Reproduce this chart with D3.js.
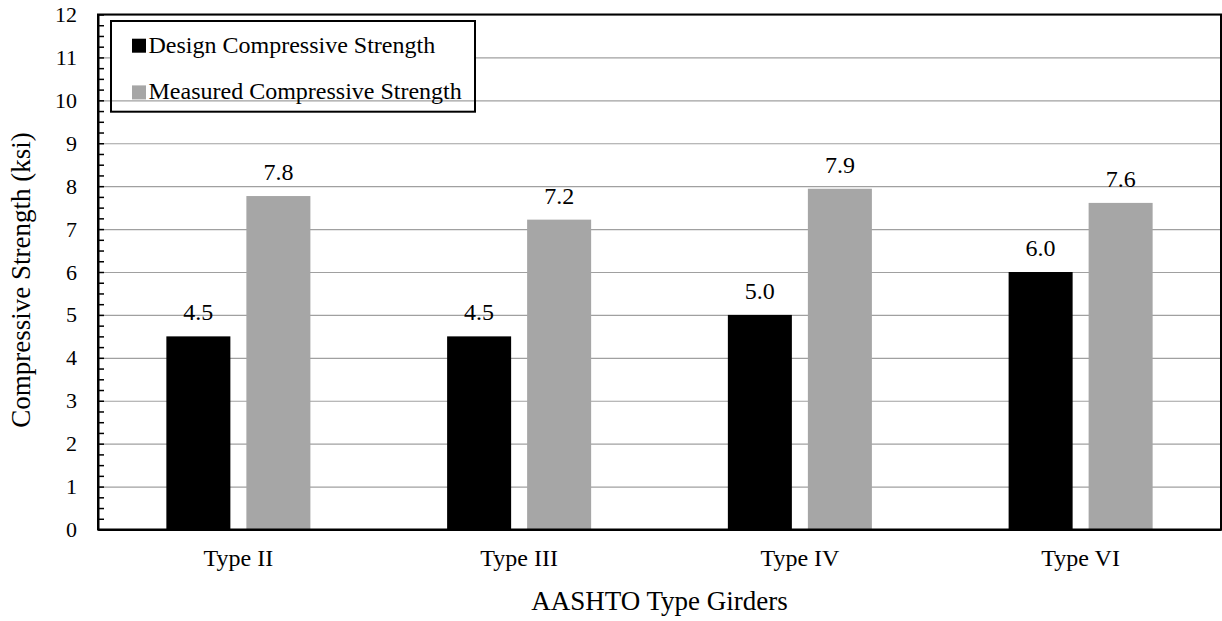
<!DOCTYPE html>
<html>
<head>
<meta charset="utf-8">
<script src="https://cdn.jsdelivr.net/npm/d3@7"></script>
<style>
  html, body { margin: 0; padding: 0; background: #fff; }
  svg { display: block; font-family: "Liberation Serif", "Times New Roman", serif; }
</style>
</head>
<body>
<svg id="chart" width="1222" height="621"></svg>
<script>
// Girder types and concrete strengths (ksi)
const categories = ["Type II", "Type III", "Type IV", "Type VI"];
const designStrength = [4.5, 4.5, 5.0, 6.0];
const measuredStrength = [7.77, 7.22, 7.94, 7.61];
const seriesNames = ["Design Compressive Strength", "Measured Compressive Strength"];
const seriesColors = ["#000000", "#a6a6a6"];
const yTickValues = d3.range(0, 13, 1);
const yMinorTickValues = d3.range(0, 12.001, 0.25);
const xTitle = "AASHTO Type Girders";
const yTitle = "Compressive Strength (ksi)";

const svg = d3.select("#chart");
const plot = { left: 98, right: 1221, top: 14.5, bottom: 529.5 };
const plotW = plot.right - plot.left;
const plotH = plot.bottom - plot.top;

const y = d3.scaleLinear().domain([0, 12]).range([plot.bottom, plot.top]);
const x0 = d3.scaleBand().domain(categories).range([plot.left, plot.right])
  .paddingInner(0.487).paddingOuter(0.2435);
const x1 = d3.scaleBand().domain(seriesNames).range([0, x0.bandwidth()])
  .paddingInner(0.2).paddingOuter(0);

const rows = categories.map((c, i) => ({
  category: c,
  values: [
    { series: seriesNames[0], value: designStrength[i] },
    { series: seriesNames[1], value: measuredStrength[i] }
  ]
}));
const color = d3.scaleOrdinal().domain(seriesNames).range(seriesColors);

// horizontal gridlines
svg.append("g")
  .attr("transform", `translate(${plot.left},0)`)
  .call(d3.axisLeft(y).tickValues(yTickValues.slice(1)).tickSize(-plotW).tickFormat(""))
  .call(g => g.select(".domain").remove())
  .call(g => g.selectAll("line").attr("stroke", "#a0a0a0").attr("stroke-width", 1.2));

// bars
const groups = svg.append("g").selectAll("g").data(rows).join("g")
  .attr("transform", d => `translate(${x0(d.category)},0)`);
groups.selectAll("rect").data(d => d.values).join("rect")
  .attr("x", d => x1(d.series))
  .attr("y", d => y(d.value))
  .attr("width", x1.bandwidth())
  .attr("height", d => y(0) - y(d.value))
  .attr("fill", d => color(d.series));

// value labels
groups.selectAll("text").data(d => d.values).join("text")
  .attr("x", d => x1(d.series) + x1.bandwidth() / 2)
  .attr("y", d => y(d.value) - 16)
  .attr("text-anchor", "middle")
  .attr("font-size", 24)
  .attr("fill", "#000")
  .text(d => d.value.toFixed(1));

// plot border
svg.append("rect")
  .attr("x", plot.left).attr("y", plot.top)
  .attr("width", plotW).attr("height", plotH)
  .attr("fill", "none").attr("stroke", "#000").attr("stroke-width", 2);

// y axis: inward tick marks every 0.25, labels on whole numbers
svg.append("g")
  .attr("transform", `translate(${plot.left},0)`)
  .call(d3.axisLeft(y).tickValues(yMinorTickValues).tickSize(-6).tickSizeOuter(0).tickPadding(21)
    .tickFormat(d => Number.isInteger(d) ? d : ""))
  .call(g => g.select(".domain").attr("stroke", "#000").attr("stroke-width", 2))
  .call(g => g.selectAll("line").attr("stroke", "#000").attr("stroke-width", 1.5))
  .call(g => g.selectAll("text").attr("font-size", 22).attr("fill", "#000")
    .attr("font-family", "Liberation Serif, Times New Roman, serif"));

// x axis
svg.append("g")
  .attr("transform", `translate(0,${plot.bottom})`)
  .call(d3.axisBottom(x0).tickSize(0).tickSizeOuter(0))
  .call(g => g.select(".domain").attr("stroke", "#000").attr("stroke-width", 2))
  .call(g => g.selectAll("text").attr("font-size", 24).attr("fill", "#000")
    .attr("font-family", "Liberation Serif, Times New Roman, serif")
    .attr("dy", null).attr("y", 36.5));

// axis titles
svg.append("text")
  .attr("x", (plot.left + plot.right) / 2).attr("y", 610)
  .attr("text-anchor", "middle").attr("font-size", 27)
  .text(xTitle);
svg.append("text")
  .attr("transform", `translate(30,${(plot.top + plot.bottom) / 2 + 8}) rotate(-90)`)
  .attr("text-anchor", "middle").attr("font-size", 27)
  .text(yTitle);

// legend
const legend = svg.append("g").attr("transform", "translate(111,21)");
legend.append("rect").attr("width", 364).attr("height", 73).attr("fill", "#fff");
legend.append("rect").attr("width", 364).attr("height", 90.7)
  .attr("fill", "none").attr("stroke", "#000").attr("stroke-width", 2);
const items = legend.selectAll("g.item").data(seriesNames).join("g")
  .attr("class", "item")
  .attr("transform", (d, i) => `translate(21,${31.7 + i * 46.7})`);
items.append("rect")
  .attr("x", 0).attr("y", -14).attr("width", 14).attr("height", 14)
  .attr("fill", d => color(d));
items.append("text")
  .attr("x", 16.5).attr("y", 0)
  .attr("font-size", 24).attr("fill", "#000")
  .text(d => d);
</script>
</body>
</html>
